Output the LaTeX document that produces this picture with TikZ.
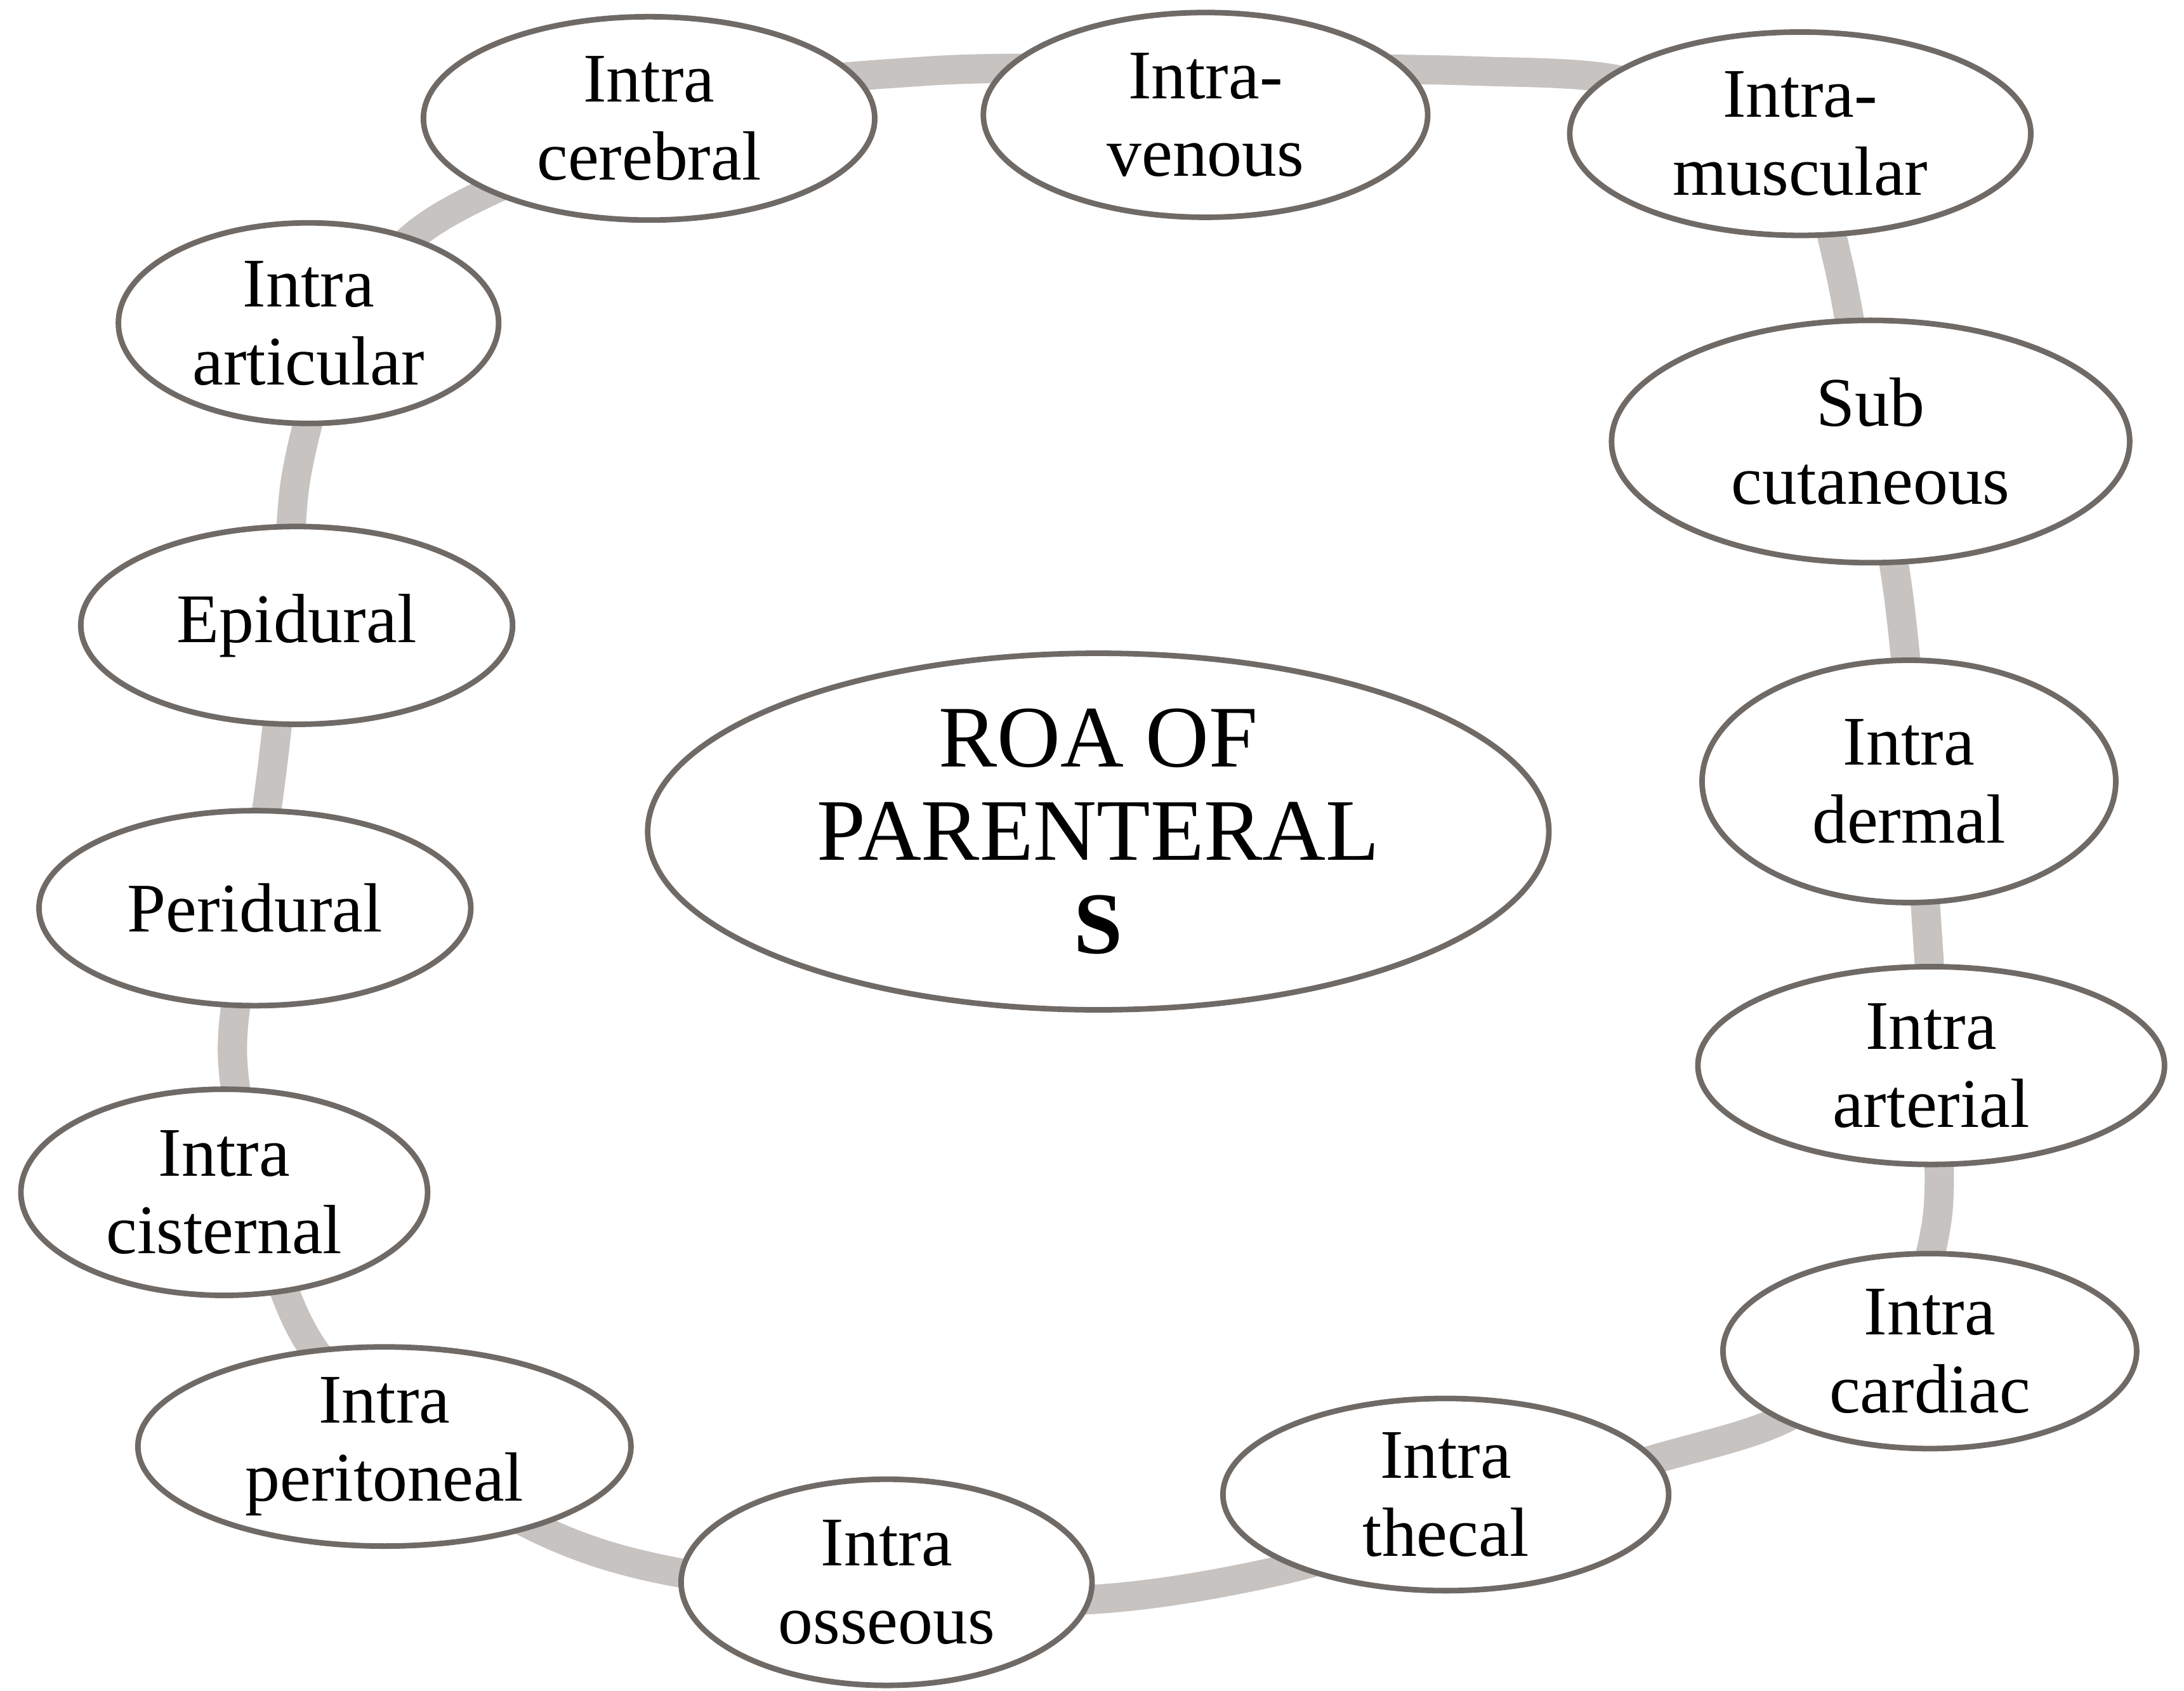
\documentclass[tikz,border=0pt]{standalone}
\usepackage{fontspec}
\setmainfont{Liberation Serif}
\usetikzlibrary{shapes.geometric}
\definecolor{ringc}{RGB}{199,195,192}
\definecolor{edgec}{RGB}{112,106,102}
\tikzset{
  bub/.style={ellipse, draw=edgec, line width=4pt, fill=white, inner sep=0pt,
    align=center, font=\fontsize{50}{56}\selectfont},
  ringline/.style={draw=ringc, line width=21pt},
}
\begin{document}
\begin{tikzpicture}[x=1pt,y=-1pt]
\useasboundingbox (0,0) rectangle (1568,1214);
\fill[white] (0,0) rectangle (1568,1214);
\draw[ringline] plot[smooth cycle, tension=0.55] coordinates {
  (167,760) (180,660) (195,555) (206,450) (213,340) (245,235) (300,167)
  (390,120) (520,68) (666,51) (800,49) (935,49) (1060,51) (1160,57)
  (1250,85) (1300,130) (1320,190) (1340,300) (1362,420) (1374,540)
  (1383,660) (1390,780) (1390,880) (1360,960) (1282,1018) (1180,1050)
  (1050,1090) (917,1128) (789,1148) (640,1147) (487,1129) (394,1101)
  (300,1045) (224,967) (190,880)};
\node[bub, minimum width=324pt, minimum height=146pt] (cer) at (466,85) {Intra\\cerebral};
\node[bub, minimum width=319pt, minimum height=147pt] (ven) at (865.5,82.5) {Intra-\\venous};
\node[bub, minimum width=331pt, minimum height=146pt] (mus) at (1292.5,96) {Intra-\\muscular};
\node[bub, minimum width=372pt, minimum height=174pt] (sub) at (1343,317) {Sub\\cutaneous};
\node[bub, minimum width=297pt, minimum height=174pt] (der) at (1370.5,561) {Intra\\dermal};
\node[bub, minimum width=335pt, minimum height=142pt] (art) at (1386.5,765) {Intra\\arterial};
\node[bub, minimum width=297pt, minimum height=140pt] (car) at (1385.5,970) {Intra\\cardiac};
\node[bub, minimum width=320pt, minimum height=138pt] (the) at (1038,1073) {Intra\\thecal};
\node[bub, minimum width=295pt, minimum height=148pt] (oss) at (636.5,1136) {Intra\\osseous};
\node[bub, minimum width=354pt, minimum height=143pt] (per) at (276,1038.5) {Intra\\peritoneal};
\node[bub, minimum width=292pt, minimum height=148pt] (cis) at (161,856) {Intra\\cisternal};
\node[bub, minimum width=310pt, minimum height=140pt] (pdu) at (183,652) {Peridural};
\node[bub, minimum width=310pt, minimum height=142pt] (epi) at (213,449) {Epidural};
\node[bub, minimum width=273pt, minimum height=144pt] (arl) at (221.5,232) {Intra\\articular};
\node[bub, minimum width=647pt, minimum height=256pt, font=\fontsize{63}{67}\selectfont] (roa) at (788.5,597) {ROA OF\\PARENTERAL\\{\bfseries S}};
\end{tikzpicture}
\end{document}
